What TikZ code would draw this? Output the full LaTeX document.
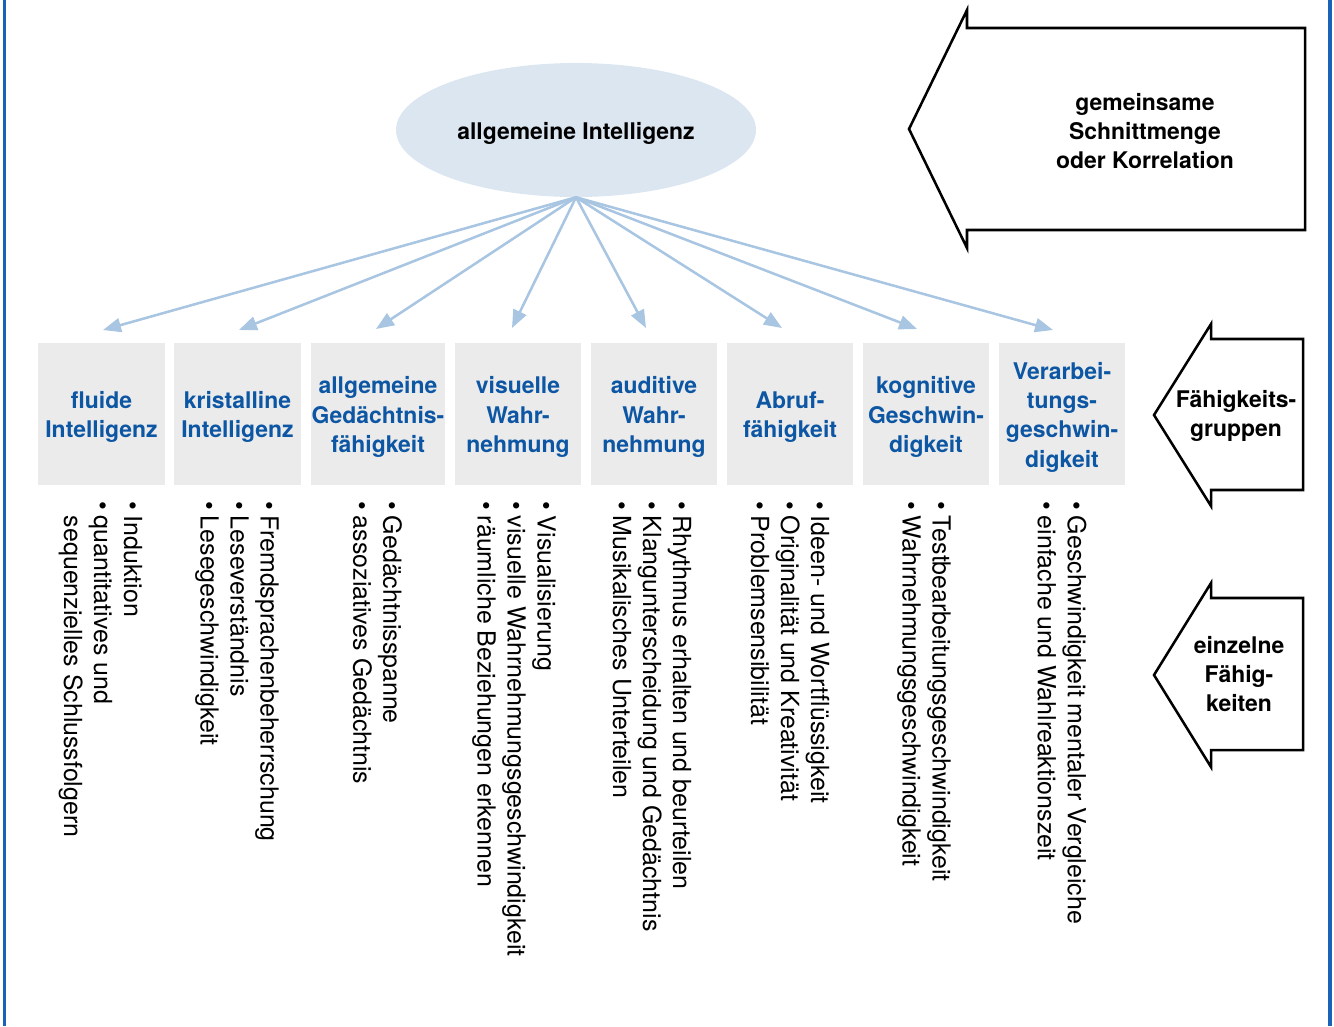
\documentclass[tikz,border=0pt]{standalone}
\usepackage{fontspec}
\setmainfont{TeX Gyre Heros}
\usetikzlibrary{arrows.meta,shapes.geometric}
\definecolor{frameblue}{HTML}{1A62B8}
\definecolor{ellfill}{HTML}{DCE6F0}
\definecolor{arrowblue}{HTML}{A8C5E2}
\definecolor{boxgray}{HTML}{EBEBEB}
\definecolor{boxtext}{HTML}{0C56A3}
\newcommand\itm{\makebox[11pt][l]{\textbullet}}
\newcommand\noitm{\hspace*{11pt}}
\begin{document}
\begin{tikzpicture}[x=0.75pt,y=-0.75pt,
  boldtxt/.style={font=\fontsize{17.2}{22}\selectfont\bfseries, align=center},
  groupbox/.style={fill=boxgray, draw=none, minimum height=106.5pt, minimum width=95pt, inner sep=0pt},
  boxlabel/.style={boldtxt, text=boxtext, yshift=-2.25pt},
  itemlist/.style={rotate=-90, anchor=west, inner sep=0pt, align=left, font=\fontsize{18.7}{22.5}\selectfont},
  link/.style={draw=arrowblue, line width=1.9pt, -{Triangle[length=13.5pt,width=10.5pt]}},
  bigarrow/.style={draw=black, line width=1.9pt, fill=white, line join=miter},
]
\useasboundingbox (0,0) rectangle (1334,1026);
% frame lines
\draw[frameblue, line width=2.2pt] (4.7,0) -- (4.7,1026);
\draw[frameblue, line width=3pt] (1329.7,0) -- (1329.7,1026);

% ellipse
\node[ellipse, fill=ellfill, minimum width=270pt, minimum height=100.5pt, inner sep=0pt, label={[boldtxt, yshift=-2.25pt]center:allgemeine Intelligenz}] (gi) at (576,130) {};

% group boxes
\node[groupbox, label={[boxlabel]center:fluide\\Intelligenz}] (b1) at (101.5,414) {};
\node[groupbox, label={[boxlabel]center:kristalline\\Intelligenz}] (b2) at (237.5,414) {};
\node[groupbox, minimum width=100.5pt, label={[boxlabel]center:allgemeine\\Gedächtnis-\\fähigkeit}] (b3) at (378,414) {};
\node[groupbox, label={[boxlabel]center:visuelle\\Wahr-\\nehmung}] (b4) at (518,414) {};
\node[groupbox, label={[boxlabel]center:auditive\\Wahr-\\nehmung}] (b5) at (654,414) {};
\node[groupbox, label={[boxlabel]center:Abruf-\\fähigkeit}] (b6) at (790,414) {};
\node[groupbox, label={[boxlabel]center:kognitive\\Geschwin-\\digkeit}] (b7) at (926,414) {};
\node[groupbox, label={[boxlabel]center:Verarbei-\\tungs-\\geschwin-\\digkeit}] (b8) at (1062,414) {};

% arrow tips
\coordinate (t1) at (103,330);
\coordinate (t2) at (239,330);
\coordinate (t3) at (376,329);
\coordinate (t4) at (512,328);
\coordinate (t5) at (646,328);
\coordinate (t6) at (782,328);
\coordinate (t7) at (917,329);
\coordinate (t8) at (1053,330);
\foreach \i in {1,...,8} { \draw[link] (gi.south) -- (t\i); }

% lists
\node[itemlist] (l1) at (100.5,501) {\itm Induktion\\\itm quantitatives und\\\noitm sequenzielles Schlussfolgern};
\node[itemlist] (l2) at (237,501) {\itm Fremdsprachenbeherrschung\\\itm Leseverständnis\\\itm Lesegeschwindigkeit};
\node[itemlist] (l3) at (377.5,501) {\itm Gedächtnisspanne\\\itm assoziatives Gedächtnis};
\node[itemlist] (l4) at (514,501) {\itm Visualisierung\\\itm visuelle Wahrnehmungsgeschwindigkeit\\\itm räumliche Beziehungen erkennen};
\node[itemlist] (l5) at (652,501) {\itm Rhythmus erhalten und beurteilen\\\itm Klangunterscheidung und Gedächtnis\\\itm Musikalisches Unterteilen};
\node[itemlist] (l6) at (790,501) {\itm Ideen- und Wortflüssigkeit\\\itm Originalität und Kreativität\\\itm Problemsensibilität};
\node[itemlist] (l7) at (924,501) {\itm Testbearbeitungsgeschwindigkeit\\\itm Wahrnehmungsgeschwindigkeit};
\node[itemlist] (l8) at (1062,501) {\itm Geschwindigkeit mentaler Vergleiche\\\itm einfache und Wahlreaktionszeit};

% side arrows
\draw[bigarrow] (909,129) -- (967,10) -- (967,28) -- (1305,28) -- (1305,230) -- (967,230) -- (967,248) -- cycle;
\node[boldtxt] (a1) at (1145,131) {gemeinsame\\Schnittmenge\\oder Korrelation};
\draw[bigarrow] (1154,415) -- (1211,324) -- (1211,339) -- (1303,339) -- (1303,490) -- (1211,490) -- (1211,506) -- cycle;
\node[boldtxt] (a2) at (1236,416) {Fähigkeits-\\gruppen};
\draw[bigarrow] (1154,675) -- (1211,583) -- (1211,598) -- (1303,598) -- (1303,750) -- (1211,750) -- (1211,767) -- cycle;
\node[boldtxt] (a3) at (1239,674) {einzelne\\Fähig-\\keiten};
\end{tikzpicture}
\end{document}
